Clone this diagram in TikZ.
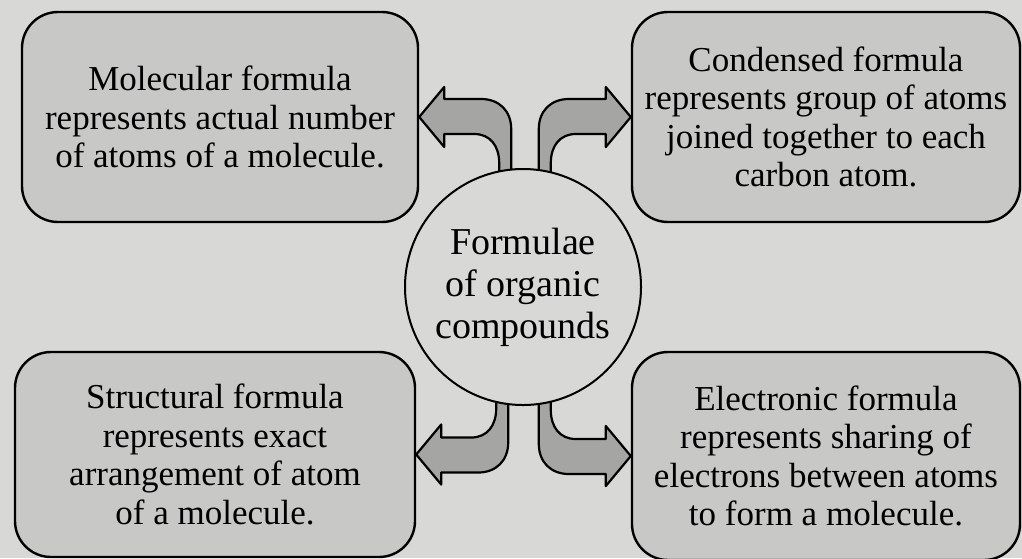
\documentclass[tikz,border=0pt]{standalone}
\usepackage{fontspec}
\setmainfont{Liberation Serif}
\usetikzlibrary{calc}
\definecolor{paper}{RGB}{216,216,214}
\definecolor{boxcol}{RGB}{200,200,198}
\definecolor{arrowcol}{RGB}{165,165,163}

% bent block arrow: tip anchor, xscale, yscale
\newcommand{\bentarrow}[3]{%
  \begin{scope}[shift={(#1)}, xscale=#2, yscale=#3]
    \filldraw[fatarrow] (0,0) -- (25,-30) -- (25,-18) -- (62,-18)
      .. controls (80,-18) and (92,-6) .. (92,12) -- (92,70) -- (80,70)
      -- (80,46) .. controls (80,29) and (71,17) .. (55,17)
      -- (25,17) -- (25,30) -- cycle;
  \end{scope}}

\begin{document}
\begin{tikzpicture}[
    x=1pt, y=-1pt,
    infobox/.style={draw, line width=2.4pt, rounded corners=36pt, fill=boxcol, align=center,
      font=\fontsize{35}{38.5}\selectfont, inner sep=0pt},
    hubnode/.style={draw, line width=2pt, circle, fill=paper, minimum size=236pt, align=center,
      font=\fontsize{38}{42}\selectfont, inner sep=0pt},
    fatarrow/.style={draw, line width=2.2pt, fill=arrowcol, line join=round},
]
\fill[paper] (0,0) rectangle (1022,558);
\useasboundingbox (0,0) rectangle (1022,558);

\node[infobox, minimum width=396pt, minimum height=210pt] (mol) at (220,117)
  {Molecular formula\\represents actual number\\of atoms of a molecule.};
\node[infobox, minimum width=388pt, minimum height=210pt] (cond) at (826,117)
  {Condensed formula\\represents group of atoms\\joined together to each\\carbon atom.};
\node[infobox, minimum width=400pt, minimum height=205pt] (struc) at (215,454.5)
  {Structural formula\\represents exact\\arrangement of atom\\of a molecule.};
\node[infobox, minimum width=388pt, minimum height=208pt] (elec) at (826,456)
  {Electronic formula\\represents sharing of\\electrons between atoms\\to form a molecule.};

\bentarrow{mol.east}{1}{1}
\bentarrow{cond.west}{-1}{1}
\bentarrow{struc.east}{1}{-1}
\bentarrow{elec.west}{-1}{-1}

\node[hubnode] (hub) at (523,287) {Formulae\\of organic\\compounds};
\end{tikzpicture}
\end{document}
